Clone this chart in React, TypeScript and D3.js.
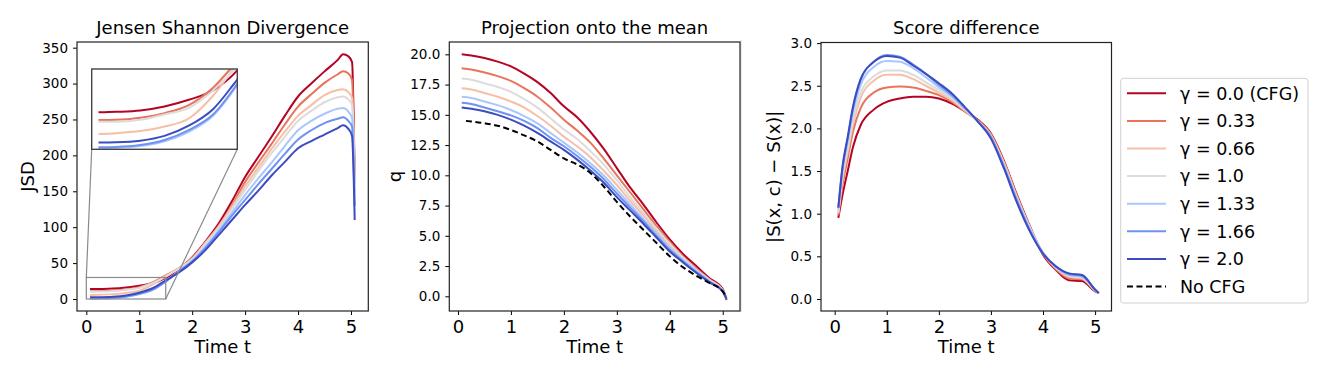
import React, { useEffect, useRef } from "react";
import * as d3 from "d3";

// legend / series
const gammaLabels = ["γ = 0.0 (CFG)", "γ = 0.33", "γ = 0.66", "γ = 1.0", "γ = 1.33", "γ = 1.66", "γ = 2.0"];
const gammaColors = ["#b40426", "#e7745b", "#f6bfa6", "#dddcdc", "#aac7fd", "#6f92f3", "#3b4cc0"];
const noCfgLabel = "No CFG";

// Jensen Shannon Divergence
const jsdTime = [0.07, 0.25, 0.5, 0.75, 1, 1.25, 1.5, 1.75, 2, 2.25, 2.5, 2.75, 3, 3.25, 3.5, 3.75, 4, 4.25, 4.5, 4.75, 4.85, 4.95, 5.02, 5.07];
const jsdG000 = [13.8, 14.0, 14.5, 16, 18.5, 22, 29.5, 42, 58, 80, 105, 136, 170, 198, 226, 255, 282, 300, 317, 333, 341, 338, 330, 166];
const jsdG033 = [10.9, 11.0, 11.8, 13.5, 16.5, 23, 33, 43, 57, 79, 102, 130, 163, 190, 216, 243, 268, 285, 301, 313, 317, 314, 305, 163];
const jsdG066 = [5.7, 6.0, 6.8, 8.5, 11.5, 20, 32, 43, 56, 78, 101, 128, 157, 183, 209, 233, 255, 270, 284, 291, 292, 288, 280, 163];
const jsdG100 = [10.3, 10.3, 11.0, 13.0, 15.5, 22, 31, 42.5, 55.5, 77, 99, 125, 152, 178, 203, 226, 248, 262, 274, 281, 282, 278, 270, 160];
const jsdG133 = [0.5, 0.6, 1.2, 3.0, 6.5, 12.5, 24, 39, 53, 73, 95, 120, 145, 168, 190, 213, 235, 248, 258, 265, 266, 261, 252, 148];
const jsdG166 = [0.8, 0.9, 1.6, 3.5, 7.2, 13, 24.5, 38.5, 52.5, 71, 93, 116, 138, 160, 181, 202, 222, 235, 245, 251, 253, 248, 240, 130];
const jsdG200 = [2.5, 2.6, 3.2, 5.0, 8.8, 15, 26, 37, 51, 68, 89, 110, 131, 151, 172, 191, 210, 220, 229, 238, 242, 237, 227, 110];

// Projection onto the mean
const timeSteps = [0.07, 0.25, 0.5, 0.75, 1, 1.25, 1.5, 1.75, 2, 2.25, 2.5, 2.75, 3, 3.25, 3.5, 3.75, 4, 4.25, 4.5, 4.75, 5, 5.07];
const projG000 = [20.0, 19.9, 19.7, 19.4, 19.0, 18.4, 17.7, 16.8, 15.7, 14.8, 13.6, 12.2, 10.6, 9.0, 7.6, 6.1, 4.7, 3.5, 2.5, 1.5, 0.6, -0.3];
const projG033 = [18.85, 18.75, 18.5, 18.2, 17.8, 17.2, 16.5, 15.6, 14.6, 13.7, 12.7, 11.4, 10.0, 8.6, 7.2, 5.8, 4.5, 3.3, 2.3, 1.4, 0.5, -0.25];
const projG066 = [17.2, 17.1, 16.8, 16.5, 16.1, 15.6, 14.9, 14.1, 13.2, 12.4, 11.5, 10.4, 9.2, 7.9, 6.7, 5.4, 4.2, 3.1, 2.15, 1.3, 0.45, -0.2];
const projG100 = [18.0, 17.9, 17.6, 17.3, 16.9, 16.3, 15.6, 14.7, 13.8, 13.0, 12.0, 10.9, 9.6, 8.2, 6.9, 5.6, 4.35, 3.2, 2.2, 1.35, 0.5, -0.2];
const projG133 = [16.5, 16.4, 16.1, 15.8, 15.4, 14.9, 14.3, 13.5, 12.7, 11.9, 11.0, 10.0, 8.8, 7.6, 6.4, 5.2, 4.0, 3.0, 2.1, 1.25, 0.45, -0.2];
const projG166 = [16.0, 15.9, 15.6, 15.3, 14.95, 14.5, 13.9, 13.1, 12.4, 11.6, 10.7, 9.7, 8.5, 7.35, 6.2, 5.0, 3.85, 2.9, 2.0, 1.2, 0.4, -0.2];
const projG200 = [15.6, 15.5, 15.3, 15.0, 14.6, 14.1, 13.5, 12.8, 12.1, 11.3, 10.4, 9.4, 8.2, 7.1, 6.0, 4.85, 3.7, 2.8, 1.95, 1.15, 0.4, -0.2];
const noCfgTime = [0.15, 0.25, 0.5, 0.75, 1, 1.25, 1.5, 1.75, 2, 2.25, 2.5, 2.75, 3, 3.25, 3.5, 3.75, 4, 4.25, 4.5, 4.75, 5, 5.07];
const projNoCfg = [14.5, 14.45, 14.3, 14.1, 13.75, 13.3, 12.8, 12.1, 11.4, 10.9, 10.2, 9.1, 7.8, 6.6, 5.5, 4.4, 3.3, 2.4, 1.7, 1.1, 0.4, -0.1];

// Score difference
const scoreTime = [0.07, 0.15, 0.25, 0.35, 0.5, 0.75, 1, 1.25, 1.5, 1.75, 2, 2.25, 2.5, 2.75, 3, 3.25, 3.5, 3.75, 4, 4.25, 4.5, 4.75, 5, 5.07];
const scoreG000 = [0.95, 1.22, 1.5, 1.78, 2.04, 2.22, 2.31, 2.35, 2.37, 2.37, 2.35, 2.29, 2.2, 2.1, 1.94, 1.62, 1.22, 0.85, 0.52, 0.34, 0.22, 0.21, 0.09, 0.07];
const scoreG033 = [0.98, 1.33, 1.65, 1.96, 2.24, 2.42, 2.48, 2.49, 2.48, 2.44, 2.39, 2.31, 2.2, 2.09, 1.93, 1.6, 1.2, 0.84, 0.53, 0.35, 0.24, 0.23, 0.1, 0.07];
const scoreG066 = [1.0, 1.4, 1.72, 2.04, 2.36, 2.56, 2.63, 2.63, 2.58, 2.5, 2.42, 2.33, 2.21, 2.09, 1.92, 1.6, 1.2, 0.84, 0.54, 0.36, 0.26, 0.24, 0.1, 0.07];
const scoreG100 = [1.02, 1.45, 1.77, 2.1, 2.42, 2.61, 2.68, 2.68, 2.63, 2.54, 2.45, 2.35, 2.22, 2.08, 1.9, 1.57, 1.18, 0.83, 0.54, 0.37, 0.27, 0.25, 0.1, 0.07];
const scoreG133 = [1.05, 1.5, 1.84, 2.18, 2.51, 2.72, 2.79, 2.78, 2.71, 2.6, 2.48, 2.37, 2.23, 2.08, 1.9, 1.56, 1.17, 0.82, 0.54, 0.37, 0.28, 0.26, 0.11, 0.07];
const scoreG166 = [1.07, 1.54, 1.88, 2.23, 2.57, 2.78, 2.86, 2.84, 2.75, 2.64, 2.51, 2.39, 2.24, 2.08, 1.9, 1.55, 1.15, 0.8, 0.54, 0.38, 0.29, 0.27, 0.11, 0.07];
const scoreG200 = [1.07, 1.55, 1.9, 2.25, 2.58, 2.78, 2.85, 2.83, 2.74, 2.64, 2.53, 2.41, 2.25, 2.08, 1.88, 1.53, 1.13, 0.79, 0.53, 0.38, 0.3, 0.28, 0.11, 0.07];

const xTicks = [0, 1, 2, 3, 4, 5];
const jsdTicks = [0, 50, 100, 150, 200, 250, 300, 350];
const projTicks = [0, 2.5, 5, 7.5, 10, 12.5, 15, 17.5, 20];
const scoreTicks = [0, 0.5, 1, 1.5, 2, 2.5, 3];

const FONT = "DejaVu Sans, Verdana, sans-serif";

const App = () => {
  const svgRef = useRef(null);
  const width = 1329;
  const height = 380;

  useEffect(() => {
    const svg = d3.select(svgRef.current).attr("width", width).attr("height", height);
    svg.selectAll("*").remove();

    svg.append("rect").attr("width", width).attr("height", height).attr("fill", "#fff");
    // faint separator left of the third panel
    svg.append("line").attr("x1", 741).attr("x2", 741).attr("y1", 40).attr("y2", 312)
      .attr("stroke", "#d4d4d4").attr("stroke-width", 1);

    const drawPanel = (opts) => {
      const { left, right, top, bottom, xDomain, yDomain, yTicks, yFmt, title, yLabel, yLabelX, series } = opts;
      const x = d3.scaleLinear().domain(xDomain).range([left, right]);
      const y = d3.scaleLinear().domain(yDomain).range([bottom, top]);
      const g = svg.append("g");

      const line = d3.line().curve(d3.curveMonotoneX).x((d) => x(d[0])).y((d) => y(d[1]));
      series.forEach((s) => {
        g.append("path")
          .datum(s.t.map((t, i) => [t, s.v[i]]))
          .attr("d", line)
          .attr("fill", "none")
          .attr("stroke", s.color)
          .attr("stroke-width", 2)
          .attr("stroke-dasharray", s.dash || null)
          .attr("stroke-linejoin", "round");
      });

      // x axis
      const xa = g.append("g")
        .attr("transform", `translate(0,${bottom})`)
        .call(d3.axisBottom(x).tickValues(xTicks).tickSize(4).tickFormat(d3.format("d")));
      xa.select(".domain").remove();
      xa.selectAll("line").attr("stroke", "#000").attr("stroke-width", 1);
      xa.selectAll("text").attr("y", 22).attr("dy", null)
        .style("font-family", FONT).style("font-size", "18px").attr("fill", "#000");

      // y axis
      const ya = g.append("g")
        .attr("transform", `translate(${left},0)`)
        .call(d3.axisLeft(y).tickValues(yTicks).tickSize(4).tickPadding(5).tickFormat(yFmt));
      ya.select(".domain").remove();
      ya.selectAll("line").attr("stroke", "#000").attr("stroke-width", 1);
      ya.selectAll("text").style("font-family", FONT).style("font-size", "13.5px").attr("fill", "#000");

      g.append("rect")
        .attr("x", left).attr("y", top)
        .attr("width", right - left).attr("height", bottom - top)
        .attr("fill", "none").attr("stroke", "#222").attr("stroke-width", 1.2);

      g.append("text")
        .attr("x", (left + right) / 2).attr("y", 33.5)
        .attr("text-anchor", "middle")
        .style("font-family", FONT).style("font-size", "18px")
        .text(title);

      g.append("text")
        .attr("x", (left + right) / 2).attr("y", 352.5)
        .attr("text-anchor", "middle")
        .style("font-family", FONT).style("font-size", "18px")
        .text("Time t");

      g.append("text")
        .attr("transform", `translate(${yLabelX},${(top + bottom) / 2}) rotate(-90)`)
        .attr("text-anchor", "middle")
        .style("font-family", FONT).style("font-size", "18px")
        .text(yLabel);

      return { x, y, g };
    };

    const jsdValues = [jsdG000, jsdG033, jsdG066, jsdG100, jsdG133, jsdG166, jsdG200];
    const projValues = [projG000, projG033, projG066, projG100, projG133, projG166, projG200];
    const scoreValues = [scoreG000, scoreG033, scoreG066, scoreG100, scoreG133, scoreG166, scoreG200];

    const jsdSeries = jsdValues.map((v, i) => ({ t: jsdTime, v, color: gammaColors[i] }));
    const projSeries = projValues.map((v, i) => ({ t: timeSteps, v, color: gammaColors[i] }));
    projSeries.push({ t: noCfgTime, v: projNoCfg, color: "#000", dash: "6,3.5" });
    const scoreSeries = scoreValues.map((v, i) => ({ t: scoreTime, v, color: gammaColors[i] }));

    const p1 = drawPanel({
      left: 77, right: 368.3, top: 42, bottom: 311,
      xDomain: [-0.176, 5.327], yDomain: [-16.7, 357.9],
      yTicks: jsdTicks, yFmt: d3.format("d"),
      title: "Jensen Shannon Divergence", yLabel: "JSD", yLabelX: 34,
      series: jsdSeries,
    });
    drawPanel({
      left: 449.3, right: 740, top: 42, bottom: 311,
      xDomain: [-0.164, 5.326], yDomain: [-1.215, 21.02],
      yTicks: projTicks, yFmt: d3.format(".1f"),
      title: "Projection onto the mean", yLabel: "q", yLabelX: 400.5,
      series: projSeries,
    });
    drawPanel({
      left: 821, right: 1111.5, top: 42.5, bottom: 311,
      xDomain: [-0.263, 5.315], yDomain: [-0.141, 3.007],
      yTicks: scoreTicks, yFmt: d3.format(".1f"),
      title: "Score difference", yLabel: "|S(x, c) − S(x)|", yLabelX: 780,
      series: scoreSeries,
    });

    // zoomed inset on the JSD panel
    const zoomX = [0, 1.5];
    const zoomY = [0, 30];
    const inset = { left: 91.7, right: 237.3, top: 69, bottom: 149.3 };
    const ix = d3.scaleLinear().domain(zoomX).range([inset.left, inset.right]);
    const iy = d3.scaleLinear().domain(zoomY).range([inset.bottom, inset.top]);
    const { x: jx, y: jy, g: jg } = p1;

    jg.append("rect")
      .attr("x", jx(zoomX[0])).attr("y", jy(zoomY[1]))
      .attr("width", jx(zoomX[1]) - jx(zoomX[0])).attr("height", jy(zoomY[0]) - jy(zoomY[1]))
      .attr("fill", "none").attr("stroke", "#8a8a8a").attr("stroke-width", 1.2);
    jg.append("line")
      .attr("x1", jx(zoomX[0])).attr("y1", jy(zoomY[1]))
      .attr("x2", inset.left).attr("y2", inset.bottom)
      .attr("stroke", "#8a8a8a").attr("stroke-width", 1.2);
    jg.append("line")
      .attr("x1", jx(zoomX[1])).attr("y1", jy(zoomY[0]))
      .attr("x2", inset.right).attr("y2", inset.bottom)
      .attr("stroke", "#8a8a8a").attr("stroke-width", 1.2);

    svg.append("clipPath").attr("id", "inset-clip")
      .append("rect")
      .attr("x", inset.left).attr("y", inset.top)
      .attr("width", inset.right - inset.left).attr("height", inset.bottom - inset.top);

    const ig = svg.append("g");
    ig.append("rect")
      .attr("x", inset.left).attr("y", inset.top)
      .attr("width", inset.right - inset.left).attr("height", inset.bottom - inset.top)
      .attr("fill", "#fff");
    const iline = d3.line().curve(d3.curveMonotoneX).x((d) => ix(d[0])).y((d) => iy(d[1]));
    const ilines = ig.append("g").attr("clip-path", "url(#inset-clip)");
    jsdSeries.forEach((s) => {
      ilines.append("path")
        .datum(s.t.map((t, i) => [t, s.v[i]]))
        .attr("d", iline)
        .attr("fill", "none")
        .attr("stroke", s.color)
        .attr("stroke-width", 2)
        .attr("stroke-linejoin", "round");
    });
    ig.append("rect")
      .attr("x", inset.left).attr("y", inset.top)
      .attr("width", inset.right - inset.left).attr("height", inset.bottom - inset.top)
      .attr("fill", "none").attr("stroke", "#444").attr("stroke-width", 1.4);

    // legend
    const legendItems = gammaLabels.map((label, i) => ({ label, color: gammaColors[i], dash: null }));
    legendItems.push({ label: noCfgLabel, color: "#000", dash: "6,3.5" });

    const legend = svg.append("g");
    legend.append("rect")
      .attr("x", 1120.7).attr("y", 78.3)
      .attr("width", 187.3).attr("height", 224.7)
      .attr("rx", 3)
      .attr("fill", "#fff").attr("stroke", "#d0d0d0").attr("stroke-width", 1);

    const item = legend.selectAll("g.item")
      .data(legendItems)
      .enter()
      .append("g")
      .attr("class", "item")
      .attr("transform", (d, i) => `translate(0,${93.3 + i * 27.6})`);
    item.append("line")
      .attr("x1", 1127).attr("x2", 1166)
      .attr("stroke", (d) => d.color)
      .attr("stroke-width", 2)
      .attr("stroke-dasharray", (d) => d.dash);
    item.append("text")
      .attr("x", 1180).attr("y", 6.3)
      .style("font-family", FONT).style("font-size", "17.5px")
      .text((d) => d.label);
  }, []);

  return <svg ref={svgRef} style={{ position: "absolute", left: 0, top: 0 }}></svg>;
};

export default App;
